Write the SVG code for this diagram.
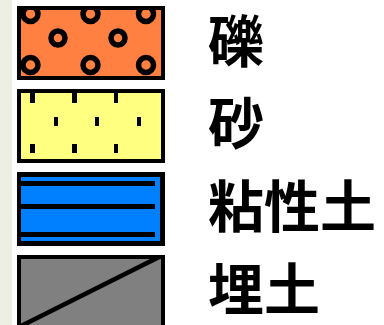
<svg xmlns="http://www.w3.org/2000/svg" width="384" height="325" viewBox="0 0 384 325">
  <defs>
    <style>
      .frame { fill: #000000; }
      .ring { fill: none; stroke: #000000; stroke-width: 5.5; }
      .tick { fill: #000000; }
      .bar { fill: #000000; }
      .label { font-family: "Noto Sans CJK JP", "Noto Sans CJK SC", sans-serif; font-size: 56px; font-weight: 700; fill: #000000; }
    </style>
    <clipPath id="clipGravel"><rect x="21" y="10" width="140" height="66"/></clipPath>
    <clipPath id="clipFill"><rect x="21" y="259" width="140" height="70"/></clipPath>
  </defs>
  <rect x="0" y="0" width="384" height="325" fill="#ffffff"/>
  <rect x="0" y="0" width="12" height="325" fill="#ECEFE1"/>

  <g id="gravel">
    <rect class="frame" x="17" y="6" width="148" height="74"/>
    <rect x="21" y="10" width="140" height="66" fill="#FF8040"/>
    <g clip-path="url(#clipGravel)">
      <circle class="ring" cx="30.5" cy="14" r="7.5"/>
      <circle class="ring" cx="90.5" cy="14" r="7.5"/>
      <circle class="ring" cx="146" cy="14" r="7.5"/>
      <circle class="ring" cx="58" cy="38" r="7"/>
      <circle class="ring" cx="118" cy="38" r="7"/>
      <circle class="ring" cx="30.5" cy="65" r="7.5"/>
      <circle class="ring" cx="90.5" cy="65" r="7.5"/>
      <circle class="ring" cx="146" cy="65" r="7.5"/>
    </g>
    <text class="label" x="208" y="62">礫</text>
  </g>

  <g id="sand">
    <rect class="frame" x="17" y="89" width="148" height="74"/>
    <rect x="21" y="93" width="140" height="66" fill="#FFFF80"/>
    <rect class="tick" x="30" y="92" width="5" height="11"/>
    <rect class="tick" x="72" y="92" width="5" height="11"/>
    <rect class="tick" x="114" y="92" width="4" height="11"/>
    <rect class="tick" x="54" y="117" width="4" height="9"/>
    <rect class="tick" x="95" y="117" width="4" height="9"/>
    <rect class="tick" x="137" y="117" width="4" height="9"/>
    <rect class="tick" x="30" y="144" width="5" height="9"/>
    <rect class="tick" x="72" y="144" width="5" height="9"/>
    <rect class="tick" x="114" y="144" width="4" height="9"/>
    <text class="label" x="208" y="144">砂</text>
  </g>

  <g id="clay">
    <rect class="frame" x="17" y="172" width="148" height="74"/>
    <rect x="21" y="177" width="139" height="64" fill="#0080FF"/>
    <rect class="bar" x="21" y="181" width="134" height="5"/>
    <rect class="bar" x="21" y="204" width="134" height="5"/>
    <rect class="bar" x="21" y="232" width="134" height="5"/>
    <text class="label" x="208" y="227">粘性土</text>
  </g>

  <g id="fill">
    <rect class="frame" x="17" y="255" width="148" height="75"/>
    <rect x="21" y="259" width="140" height="70" fill="#808080"/>
    <g clip-path="url(#clipFill)">
      <line x1="0" y1="336.5" x2="180" y2="246.5" stroke="#000000" stroke-width="4.6"/>
    </g>
    <text class="label" x="208" y="310">埋土</text>
  </g>

  <g id="connectors"/>
</svg>
